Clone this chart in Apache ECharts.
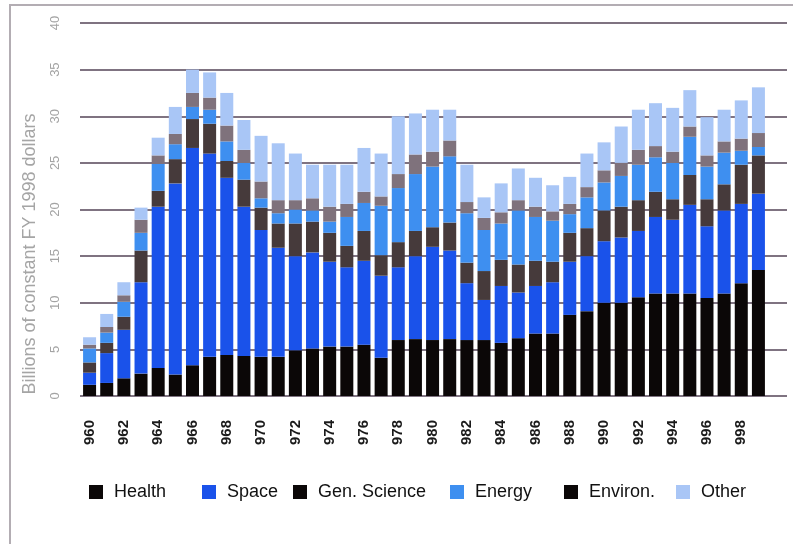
<!DOCTYPE html>
<html>
<head>
<meta charset="utf-8">
<script src="https://cdn.jsdelivr.net/npm/echarts@6/dist/echarts.min.js"></script>
<style>
  html, body { margin: 0; padding: 0; background: #ffffff; }
  #chart { width: 793px; height: 544px; }
</style>
</head>
<body>
<div id="chart"></div>
<script>
// Federal R&D by function, billions of constant FY 1998 dollars
const years = ['1960','1961','1962','1963','1964','1965','1966','1967','1968','1969',
               '1970','1971','1972','1973','1974','1975','1976','1977','1978','1979',
               '1980','1981','1982','1983','1984','1985','1986','1987','1988','1989',
               '1990','1991','1992','1993','1994','1995','1996','1997','1998','1999'];
const tickLabels = ['960','962','964','966','968','970','972','974','976','978',
                    '980','982','984','986','988','990','992','994','996','998'];

const health = [1.2,1.4,1.9,2.4,3.0,2.3,3.3,4.2,4.4,4.3, 4.2,4.2,4.9,5.1,5.3,5.3,5.5,4.1,6.0,6.1,
                6.0,6.1,6.0,6.0,5.7,6.2,6.7,6.7,8.7,9.1, 10.0,10.0,10.6,11.0,11.0,11.0,10.5,11.0,12.1,13.5];
const space = [1.3,3.2,5.2,9.8,17.3,20.5,23.3,21.8,19.0,16.0, 13.6,11.7,10.1,10.3,9.1,8.5,9.0,8.8,7.8,8.9,
               10.0,9.5,6.1,4.3,6.1,4.9,5.1,5.5,5.7,5.9, 6.6,7.0,7.1,8.2,7.9,9.5,7.7,8.9,8.5,8.2];
const genScience = [1.1,1.1,1.4,3.4,1.7,2.6,3.1,3.2,1.8,2.9, 2.4,2.6,3.5,3.3,3.1,2.3,3.2,2.2,2.7,2.7,
                    2.1,3.0,2.2,3.1,2.8,3.0,2.7,2.2,3.1,3.0, 3.3,3.3,3.3,2.7,2.2,3.2,2.9,2.8,4.2,4.1];
const energy = [1.5,1.1,1.6,1.9,2.9,1.6,1.3,1.5,2.1,1.8, 1.0,1.1,1.5,1.2,1.2,3.1,3.0,5.3,5.8,6.1,
                6.5,7.1,5.3,4.4,3.9,5.8,4.7,4.4,2.0,3.3, 3.0,3.3,3.8,3.7,3.9,4.1,3.5,3.4,1.5,0.9];
const environ = [0.4,0.6,0.7,1.4,0.9,1.1,1.5,1.3,1.7,1.4, 1.8,1.4,1.0,1.3,1.6,1.4,1.2,1.0,1.5,2.1,
                 1.6,1.7,1.2,1.3,1.2,1.1,1.1,1.0,1.1,1.1, 1.3,1.4,1.6,1.2,1.2,1.1,1.2,1.2,1.3,1.5];
const other = [0.8,1.4,1.4,1.3,1.9,2.9,2.5,2.7,3.5,3.2, 4.9,6.1,5.0,3.6,4.5,4.2,4.7,4.6,6.2,4.4,
               4.5,3.3,4.0,2.2,3.1,3.4,3.1,2.8,2.9,3.6, 3.0,3.9,4.3,4.6,4.7,3.9,4.1,3.4,4.1,4.9];

const seriesDefs = [
  { name: 'Health',       data: health,     color: '#0b0707', icon: '#0b0707' },
  { name: 'Space',        data: space,      color: '#1a52ea', icon: '#1a52ea' },
  { name: 'Gen. Science', data: genScience, color: '#463a3b', icon: '#0b0707' },
  { name: 'Energy',       data: energy,     color: '#3e8ff0', icon: '#3e8ff0' },
  { name: 'Environ.',     data: environ,    color: '#7f727c', icon: '#0b0707' },
  { name: 'Other',        data: other,      color: '#a9c6f6', icon: '#a9c6f6' }
];
// left edge of each legend swatch
const legendLeft = [89, 202, 293, 450, 564, 676];

const FONT = '"Liberation Sans", Arial, Helvetica, sans-serif';
const plotTop = 23, plotBottom = 148;

const chart = echarts.init(document.getElementById('chart'), null, { renderer: 'canvas' });

chart.setOption({
  animation: false,
  backgroundColor: '#ffffff',
  grid: [
    { left: 81, right: 26, top: plotTop, bottom: plotBottom },
    { left: 80, right: 6, top: plotTop, bottom: plotBottom }
  ],
  xAxis: [
    {
      type: 'category', gridIndex: 0, data: years,
      axisLine: { show: false }, axisTick: { show: false },
      axisLabel: {
        interval: 1, rotate: 90, margin: 24,
        fontFamily: FONT, fontSize: 15, fontWeight: 'bold', color: '#1a1a1a',
        formatter: (v, i) => tickLabels[i / 2]
      }
    },
    { type: 'category', gridIndex: 1, data: years, show: false }
  ],
  yAxis: [
    { type: 'value', gridIndex: 0, min: 0, max: 40, interval: 5, show: false },
    {
      type: 'value', gridIndex: 1, min: 0, max: 40, interval: 5,
      axisLine: { show: false }, axisTick: { show: false },
      axisLabel: {
        rotate: 90, margin: 18, fontFamily: FONT, fontSize: 13, color: '#a3a3a3',
        formatter: v => String(v)
      },
      splitLine: { lineStyle: { color: '#7f7381', width: 1.8 } }
    }
  ],
  legend: seriesDefs.map((s, i) => ({
    data: [{ name: s.name, itemStyle: { color: s.icon } }],
    left: legendLeft[i], top: 483, padding: 0,
    icon: 'rect', itemWidth: 14, itemHeight: 14,
    selectedMode: false,
    textStyle: { fontFamily: FONT, fontSize: 18, color: '#111111', padding: [0, 0, 0, 6] }
  })),
  graphic: [
    {
      type: 'rect', silent: true, z: -1,
      shape: { x: 10, y: 5, width: 820, height: 600 },
      style: { fill: 'none', stroke: '#b3adb3', lineWidth: 2 }
    },
    {
      type: 'text', silent: true,
      x: 30, y: 254, rotation: Math.PI / 2,
      style: {
        text: 'Billions of constant FY 1998 dollars',
        fontFamily: FONT, fontSize: 18, fill: '#a5a5a5',
        align: 'center', verticalAlign: 'middle'
      }
    }
  ],
  series: seriesDefs.map(s => ({
    name: s.name, type: 'bar', stack: 'total',
    xAxisIndex: 0, yAxisIndex: 0,
    barWidth: 13,
    data: s.data,
    itemStyle: { color: s.color }
  }))
});
</script>
</body>
</html>
